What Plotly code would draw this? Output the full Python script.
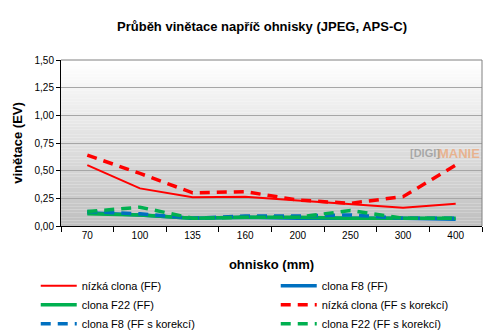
import plotly.graph_objects as go

# Focal lengths (mm) and vignetting (EV) per aperture setting
focal = ["70", "100", "135", "160", "200", "250", "300", "400"]
low_ff = [0.55, 0.34, 0.26, 0.265, 0.23, 0.195, 0.165, 0.20]
f8_ff = [0.12, 0.10, 0.07, 0.08, 0.07, 0.07, 0.07, 0.06]
f22_ff = [0.11, 0.10, 0.07, 0.08, 0.08, 0.07, 0.07, 0.07]
low_corr = [0.64, 0.475, 0.30, 0.31, 0.235, 0.205, 0.265, 0.55]
f8_corr = [0.13, 0.11, 0.07, 0.09, 0.09, 0.10, 0.07, 0.07]
f22_corr = [0.13, 0.17, 0.07, 0.08, 0.08, 0.14, 0.07, 0.07]
y_ticks = [0, 0.25, 0.5, 0.75, 1.0, 1.25, 1.5]

RED = "#ff0000"
BLUE = "#0070c0"
GREEN = "#00b050"
DASH = "10px,7px"

series = [
    ("nízká clona (FF)", low_ff, RED, 2, "solid"),
    ("clona F8 (FF)", f8_ff, BLUE, 3.5, "solid"),
    ("clona F22 (FF)", f22_ff, GREEN, 3.5, "solid"),
    ("nízká clona (FF s korekcí)", low_corr, RED, 3.5, DASH),
    ("clona F8 (FF s korekcí)", f8_corr, BLUE, 3.5, DASH),
    ("clona F22 (FF s korekcí)", f22_corr, GREEN, 3.5, DASH),
]

fig = go.Figure()
for name, vals, color, width, dash in series:
    fig.add_trace(go.Scatter(
        x=focal, y=vals, name=name, mode="lines",
        line=dict(color=color, width=width, dash=dash),
    ))

# Vertical white-to-grey gradient behind the plot area
steps = 60
shapes = []
for i in range(steps):
    t = i / (steps - 1)
    g = round(192 + (255 - 192) * t)
    shapes.append(dict(
        type="rect", xref="paper", yref="paper", layer="below",
        x0=0, x1=1, y0=i / steps, y1=(i + 1) / steps,
        fillcolor=f"rgb({g},{g},{g})", line=dict(width=0),
    ))
# grey frame on top and right sides
shapes.append(dict(type="line", xref="paper", yref="paper", x0=0, x1=1, y0=1, y1=1,
                   line=dict(color="#808080", width=1)))
shapes.append(dict(type="line", xref="paper", yref="paper", x0=1, x1=1, y0=0, y1=1,
                   line=dict(color="#808080", width=1)))

font_family = "Arial, Liberation Sans, sans-serif"

fig.update_layout(
    width=497, height=335,
    margin=dict(l=61, r=15, t=60, b=109, autoexpand=False),
    paper_bgcolor="white",
    plot_bgcolor="rgba(0,0,0,0)",
    separators=",.",
    font=dict(family=font_family, size=10, color="#000000"),
    shapes=shapes,
    title=dict(
        text="<b>Průběh vinětace napříč ohnisky (JPEG, APS-C)</b>",
        font=dict(size=13, color="#000000"),
        x=262 / 497, xanchor="center", xref="container",
        y=1 - 26 / 335, yanchor="middle",
    ),
    xaxis=dict(
        type="category", tickson="boundaries", range=[-0.5, 7.5],
        showline=True, linecolor="#000000", linewidth=1,
        ticks="outside", ticklen=5, tickcolor="#000000",
        showgrid=False, tickfont=dict(size=10),
        title=dict(text="<b>ohnisko (mm)</b>", font=dict(size=13), standoff=19),
    ),
    yaxis=dict(
        range=[0, 1.5], tickvals=y_ticks, tickformat=".2f",
        showline=True, linecolor="#000000", linewidth=1,
        ticks="outside", ticklen=4, tickcolor="#000000",
        showgrid=True, gridcolor="#a6a6a6", gridwidth=1,
        zeroline=False, tickfont=dict(size=10),
        title=dict(text="<b>vinětace (EV)</b>", font=dict(size=13), standoff=8),
    ),
    legend=dict(
        orientation="h", entrywidth=189, entrywidthmode="pixels",
        x=-0.06, xanchor="left", y=-0.272, yanchor="top",
        font=dict(size=11), tracegroupgap=0, itemwidth=36,
        bgcolor="rgba(0,0,0,0)",
    ),
    showlegend=True,
    annotations=[
        dict(text="<b>[DIGI]</b>", xref="paper", yref="paper",
             x=(408 - 61) / 421, y=(226 - 153) / 166, xanchor="left", yanchor="middle",
             showarrow=False, font=dict(size=11, color="rgba(130,130,130,0.6)")),
        dict(text="<b>MANIE</b>", xref="paper", yref="paper",
             x=(436 - 61) / 421, y=(226 - 153) / 166, xanchor="left", yanchor="middle",
             showarrow=False, font=dict(size=13, color="rgba(240,150,90,0.6)")),
    ],
)

fig.write_html("out.html")
